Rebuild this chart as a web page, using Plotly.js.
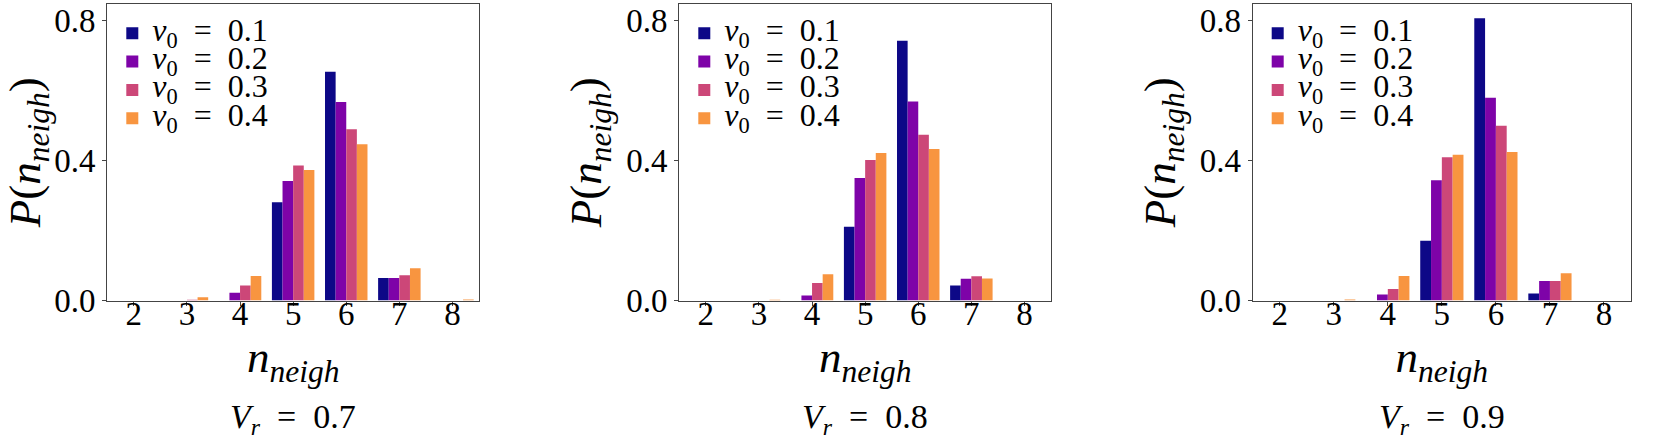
<!DOCTYPE html>
<html>
<head>
<meta charset="utf-8">
<script src="https://cdn.plot.ly/plotly-3.0.1.min.js"></script>
<style>html,body{margin:0;padding:0;background:#fff;}#chart{width:1661px;height:442px;}</style>
</head>
<body>
<div id="chart"></div>
<script>
// categories
const nNeigh = [2, 3, 4, 5, 6, 7, 8];
const v0Values = ['0.1', '0.2', '0.3', '0.4'];
const vrValues = ['0.7', '0.8', '0.9'];
const yTickVals = [0, 0.4, 0.8];
const yTickText = ['0.0', '0.4', '0.8'];

// V_r = 0.7
const vr07_v01 = [0, 0, 0, 0.281, 0.654, 0.064, 0];
const vr07_v02 = [0, 0, 0.022, 0.342, 0.568, 0.064, 0];
const vr07_v03 = [0, 0.002, 0.043, 0.386, 0.490, 0.072, 0];
const vr07_v04 = [0, 0.009, 0.070, 0.373, 0.447, 0.092, 0.003];
// V_r = 0.8
const vr08_v01 = [0, 0, 0, 0.211, 0.743, 0.043, 0];
const vr08_v02 = [0, 0, 0.014, 0.350, 0.569, 0.062, 0];
const vr08_v03 = [0, 0, 0.050, 0.402, 0.474, 0.069, 0];
const vr08_v04 = [0, 0.002, 0.075, 0.422, 0.433, 0.063, 0];
// V_r = 0.9
const vr09_v01 = [0, 0, 0, 0.171, 0.807, 0.020, 0];
const vr09_v02 = [0, 0, 0.017, 0.344, 0.580, 0.056, 0];
const vr09_v03 = [0, 0, 0.033, 0.410, 0.500, 0.056, 0];
const vr09_v04 = [0, 0.003, 0.070, 0.417, 0.425, 0.078, 0];

const colors = ['#0d0887', '#7e03a8', '#cc4778', '#f89540'];
const panels = [
  [vr07_v01, vr07_v02, vr07_v03, vr07_v04],
  [vr08_v01, vr08_v02, vr08_v03, vr08_v04],
  [vr09_v01, vr09_v02, vr09_v03, vr09_v04]
];

const FONT = 'Liberation Serif, DejaVu Serif, serif';
const TICK_FS = 33;
const TITLE_FS = 45;
const LEG_FS = 32;
const W = 1661, H = 442;
const xDomains = [[107.3 / W, 479 / W], [679.3 / W, 1051 / W], [1252.7 / W, 1631 / W]];
const yDomain = [1 - 300.5 / H, 1 - 4 / H];
const SP = '\u2002';

function legendLabel(v) {
  return '<span style="font-size:' + LEG_FS + 'px"><i>v</i><sub>0</sub>' + SP + '=' + SP + v + '</span>';
}
function panelLabel(v) {
  return '<i>V</i><sub><i>r</i></sub>' + SP + '=' + SP + v;
}

const traces = [];
panels.forEach((series, p) => {
  const sfx = p === 0 ? '' : String(p + 1);
  series.forEach((vals, s) => {
    traces.push({
      type: 'bar',
      x: nNeigh,
      y: vals,
      name: legendLabel(v0Values[s]),
      marker: {color: colors[s], line: {width: 0}},
      xaxis: 'x' + sfx,
      yaxis: 'y' + sfx,
      legend: 'legend' + sfx
    });
  });
});

const layout = {
  width: W, height: H,
  margin: {l: 0, r: 0, t: 0, b: 0},
  paper_bgcolor: '#fff',
  plot_bgcolor: '#fff',
  barmode: 'group',
  bargap: 0.2,
  bargroupgap: 0,
  font: {family: FONT, size: TICK_FS, color: '#000'},
  annotations: []
};

for (let p = 0; p < 3; p++) {
  const sfx = p === 0 ? '' : String(p + 1);
  layout['xaxis' + sfx] = {
    domain: xDomains[p],
    anchor: 'y' + sfx,
    range: [1.5, 8.5],
    tickvals: nNeigh,
    ticks: 'outside', ticklen: 4, tickcolor: '#444',
    ticklabelposition: 'outside',
    ticklabelstandoff: -20,
    showline: true, mirror: true, linecolor: '#444', linewidth: 1.2,
    showgrid: false, zeroline: false,
    tickfont: {family: FONT, size: TICK_FS},
    title: {text: '<i>n</i><sub><i>neigh</i></sub>', font: {family: FONT, size: TITLE_FS}, standoff: 2}
  };
  layout['yaxis' + sfx] = {
    domain: yDomain,
    anchor: 'x' + sfx,
    range: [0, 0.848],
    tickvals: yTickVals, ticktext: yTickText,
    ticks: 'outside', ticklen: 4, tickcolor: '#444',
    showline: true, mirror: true, linecolor: '#444', linewidth: 1.2,
    showgrid: false, zeroline: false,
    tickfont: {family: FONT, size: TICK_FS},
    title: {text: '<i>P</i>(<i>n</i><sub><i>neigh</i></sub>)', font: {family: FONT, size: TITLE_FS}, standoff: 10}
  };
  layout['legend' + sfx] = {
    x: xDomains[p][0] + 5 / W, y: 1 - 14 / H,
    xanchor: 'left', yanchor: 'top',
    bgcolor: 'rgba(0,0,0,0)', borderwidth: 0,
    font: {family: FONT, size: 19.5},
    tracegroupgap: 0
  };
  layout.annotations.push({
    text: panelLabel(vrValues[p]),
    xref: 'paper', yref: 'paper',
    x: (xDomains[p][0] + xDomains[p][1]) / 2, y: 0,
    xanchor: 'center', yanchor: 'bottom',
    showarrow: false,
    font: {family: FONT, size: 34}
  });
}

Plotly.newPlot('chart', traces, layout, {displayModeBar: false, staticPlot: true});
</script>
</body>
</html>
